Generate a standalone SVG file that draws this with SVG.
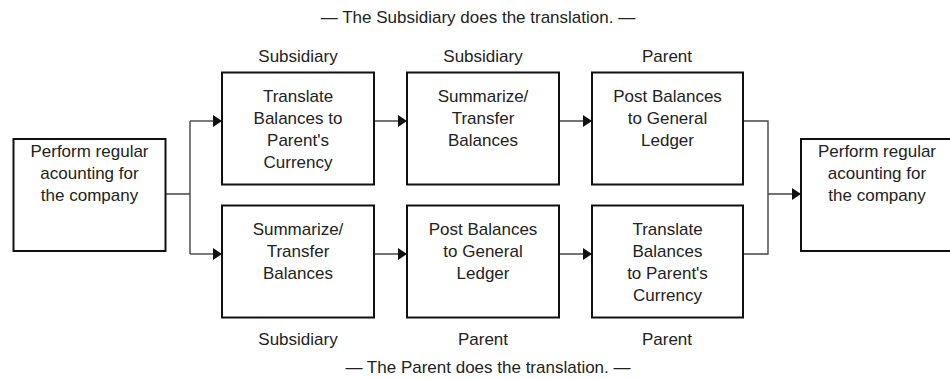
<svg xmlns="http://www.w3.org/2000/svg" width="950" height="379" viewBox="0 0 950 379">
<defs>
<style>
.box{fill:#fff;stroke:#111;stroke-width:2}
.t{font-family:"Liberation Sans",Arial,sans-serif;font-size:17px;fill:#222;text-anchor:middle}
.c{fill:none;stroke:#444;stroke-width:1.4}
</style>
<marker id="arr" markerUnits="userSpaceOnUse" markerWidth="10" markerHeight="12" refX="9" refY="6" orient="auto">
<path d="M0,0 L9,6 L0,12 Z" fill="#111"/>
</marker>
</defs>
<rect width="950" height="379" fill="#fff"/>
<text class="t" x="478" y="23">— The Subsidiary does the translation. —</text>
<text class="t" x="298" y="62">Subsidiary</text>
<text class="t" x="483" y="62">Subsidiary</text>
<text class="t" x="667" y="62">Parent</text>
<text class="t" x="298" y="345">Subsidiary</text>
<text class="t" x="483" y="345">Parent</text>
<text class="t" x="667" y="345">Parent</text>
<text class="t" x="488" y="373">— The Parent does the translation. —</text>
<g id="connectors">
<path class="c" d="M165,194 H190 M190,121 V254"/>
<path class="c" d="M190,121 H222" marker-end="url(#arr)"/>
<path class="c" d="M190,254 H222" marker-end="url(#arr)"/>
<path class="c" d="M374,121 H407" marker-end="url(#arr)"/>
<path class="c" d="M559,121 H592" marker-end="url(#arr)"/>
<path class="c" d="M374,254 H407" marker-end="url(#arr)"/>
<path class="c" d="M559,254 H592" marker-end="url(#arr)"/>
<path class="c" d="M743,121 H768 V254 H743"/>
<path class="c" d="M768,194 H801" marker-end="url(#arr)"/>
</g>
<g id="start">
<rect class="box" x="13.5" y="139" width="152" height="112"/>
<text class="t" x="89.5" y="157">Perform regular</text>
<text class="t" x="89.5" y="179">acounting for</text>
<text class="t" x="89.5" y="201">the company</text>
</g>
<g id="s1">
<rect class="box" x="222" y="72.5" width="152" height="112"/>
<text class="t" x="298" y="101.5">Translate</text>
<text class="t" x="298" y="123.5">Balances to</text>
<text class="t" x="298" y="145.5">Parent's</text>
<text class="t" x="298" y="167.5">Currency</text>
</g>
<g id="s2">
<rect class="box" x="407" y="72.5" width="152" height="112"/>
<text class="t" x="483" y="101.5">Summarize/</text>
<text class="t" x="483" y="123.5">Transfer</text>
<text class="t" x="483" y="145.5">Balances</text>
</g>
<g id="s3">
<rect class="box" x="592" y="72.5" width="151" height="112"/>
<text class="t" x="667.5" y="101.5">Post Balances</text>
<text class="t" x="667.5" y="123.5">to General</text>
<text class="t" x="667.5" y="145.5">Ledger</text>
</g>
<g id="p1">
<rect class="box" x="222" y="205.5" width="152" height="112"/>
<text class="t" x="298" y="234.5">Summarize/</text>
<text class="t" x="298" y="256.5">Transfer</text>
<text class="t" x="298" y="278.5">Balances</text>
</g>
<g id="p2">
<rect class="box" x="407" y="205.5" width="152" height="112"/>
<text class="t" x="483" y="234.5">Post Balances</text>
<text class="t" x="483" y="256.5">to General</text>
<text class="t" x="483" y="278.5">Ledger</text>
</g>
<g id="p3">
<rect class="box" x="592" y="205.5" width="151" height="112"/>
<text class="t" x="667.5" y="234.5">Translate</text>
<text class="t" x="667.5" y="256.5">Balances</text>
<text class="t" x="667.5" y="278.5">to Parent's</text>
<text class="t" x="667.5" y="300.5">Currency</text>
</g>
<g id="end">
<rect class="box" x="801" y="139" width="152" height="112"/>
<text class="t" x="877" y="157">Perform regular</text>
<text class="t" x="877" y="179">acounting for</text>
<text class="t" x="877" y="201">the company</text>
</g>
</svg>
